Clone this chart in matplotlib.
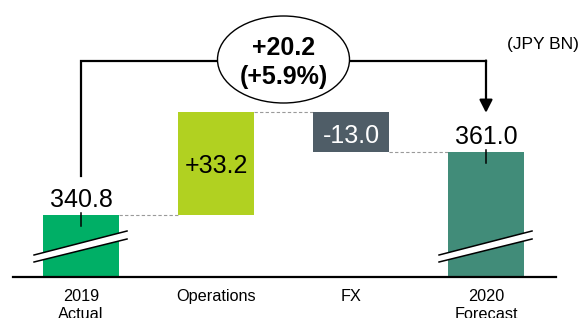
import matplotlib
matplotlib.use("Agg")
import matplotlib.pyplot as plt
from matplotlib.patches import Ellipse, Polygon

plt.rcParams['font.family'] = ['Liberation Sans', 'DejaVu Sans']

# ---- data ----
categories = ["2019\nActual", "Operations", "FX", "2020\nForecast"]
start_value = 340.8
changes = [33.2, -13.0]
end_value = 361.0
change_labels = ["+33.2", "-13.0"]
total_change_label = "+20.2"
total_pct_label = "(+5.9%)"
unit_label = "(JPY BN)"
axis_base = 320.5  # broken-axis bottom value

colors = ["#00AF66", "#B1D121", "#4F5D67", "#418C79"]

# ---- figure ----
W, H = 584, 318
fig = plt.figure(figsize=(W / 100, H / 100), dpi=100)
ax_left, ax_right, ax_bottom = 13, 556, 277
ax = fig.add_axes([ax_left / W, (H - ax_bottom) / H, (ax_right - ax_left) / W, ax_bottom / H])
x_center0, x_step = 81, 135
ax.set_xlim((ax_left - x_center0) / x_step, (ax_right - x_center0) / x_step)
px_per_unit = 3.075
ax.set_ylim(axis_base, axis_base + ax_bottom / px_per_unit)

for s in ["top", "left", "right"]:
    ax.spines[s].set_visible(False)
ax.spines["bottom"].set_linewidth(1.6)
ax.spines["bottom"].set_color("black")
ax.set_yticks([])
ax.set_xticks(range(len(categories)), categories)
ax.tick_params(axis="x", length=0, pad=8.5, labelsize=11.7)
for lbl in ax.get_xticklabels():
    lbl.set_linespacing(1.25)

bw = 0.56
# bars
levels = [start_value]
for c in changes:
    levels.append(levels[-1] + c)
ax.bar(0, start_value - axis_base, bottom=axis_base, width=bw, color=colors[0], zorder=2)
for i, c in enumerate(changes):
    lo = min(levels[i], levels[i + 1])
    ax.bar(i + 1, abs(c), bottom=lo, width=bw, color=colors[i + 1], zorder=2)
ax.bar(3, end_value - axis_base, bottom=axis_base, width=bw, color=colors[3], zorder=2)

# dashed connectors
conn_levels = [start_value, levels[1], levels[2]]
for i, lv in enumerate(conn_levels):
    ax.plot([i + bw / 2, i + 1 - bw / 2], [lv, lv], ls=(0, (3, 2)), color="#9A9A9A", lw=0.8, zorder=1)

# axis break marks on the two total bars
for xi in (0, 3):
    xl, xr = xi - 0.348, xi + 0.341
    yl_lo, yr_lo = axis_base + 15 / px_per_unit, axis_base + 38 / px_per_unit
    yl_hi, yr_hi = axis_base + 22 / px_per_unit, axis_base + 46 / px_per_unit
    ax.add_patch(Polygon([(xl, yl_lo), (xr, yr_lo), (xr, yr_hi), (xl, yl_hi)],
                         closed=True, facecolor="white", edgecolor="none", zorder=3, clip_on=False))
    ax.plot([xl, xr], [yl_lo, yr_lo], color="black", lw=1.1, zorder=4, clip_on=False)
    ax.plot([xl, xr], [yl_hi, yr_hi], color="black", lw=1.1, zorder=4, clip_on=False)

# value labels
ax.text(0, start_value + 2.6, f"{start_value:.1f}", ha="center", va="baseline", fontsize=18, zorder=5)
ax.text(3, end_value + 2.75, f"{end_value:.1f}", ha="center", va="baseline", fontsize=18, zorder=5)
ax.text(1, 354.2, change_labels[0], ha="center", va="baseline", fontsize=18, color="black", zorder=5)
ax.text(2, 364.2, change_labels[1], ha="center", va="baseline", fontsize=18, color="white", zorder=5)

# small ticks from bar tops
ax.plot([0, 0], [start_value + 0.6, start_value - 3.7], color="black", lw=1.1, zorder=5)
ax.plot([3, 3], [end_value + 0.9, end_value - 3.4], color="black", lw=1.1, zorder=5)

# bracket
y_br = axis_base + (277 - 60.5) / px_per_unit
ax.plot([0, 0, 3], [start_value + 12.6, y_br, y_br], color="black", lw=1.6, zorder=5,
        solid_joinstyle="miter")
ax.annotate("", xy=(3, levels[1] - 0.1), xytext=(3, y_br),
            arrowprops=dict(arrowstyle="-|>,head_length=0.55,head_width=0.28", color="black",
                            lw=1.6, shrinkA=0, shrinkB=0, mutation_scale=14), zorder=5)
ax.add_patch(Ellipse((1.5, axis_base + (277 - 59.5) / px_per_unit), 132 / x_step, 87 / px_per_unit,
                     facecolor="white", edgecolor="black", lw=1.0, zorder=6))
ax.text(1.5, 392.7, total_change_label, ha="center", va="baseline", fontsize=18,
        fontweight="bold", zorder=7)
ax.text(1.5, 383.3, total_pct_label, ha="center", va="baseline", fontsize=18,
        fontweight="bold", zorder=7)

fig.text(579 / W, 1 - 48.5 / H, unit_label, ha="right", va="baseline", fontsize=12.5)

fig.savefig("out.png", dpi=100)
